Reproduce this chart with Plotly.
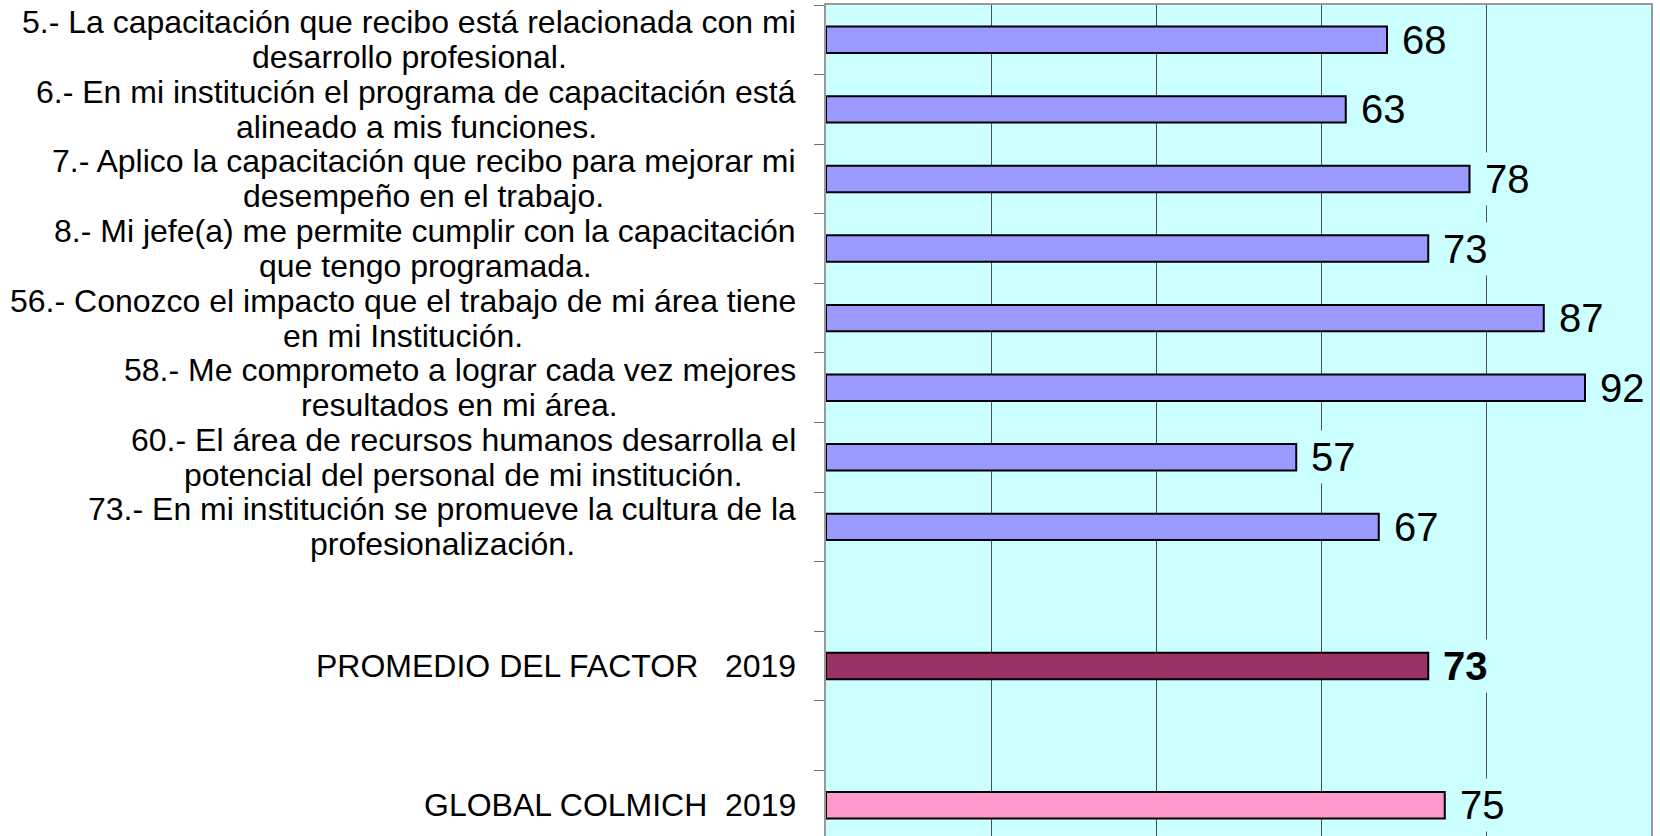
import plotly.graph_objects as go

line1 = [
    "5.- La capacitación que recibo está relacionada con mi",
    "6.- En mi institución el programa de capacitación está",
    "7.- Aplico la capacitación que recibo para mejorar mi",
    "8.- Mi jefe(a) me permite cumplir con la capacitación",
    "56.- Conozco el impacto que el trabajo de mi área tiene",
    "58.- Me comprometo a lograr cada vez mejores",
    "60.- El área de recursos humanos desarrolla el",
    "73.- En mi institución se promueve la cultura de la",
    "",
    "PROMEDIO DEL FACTOR\u00a0\u00a0\u00a02019",
    "",
    "GLOBAL COLMICH\u00a0\u00a02019",
]
line2 = [
    "desarrollo profesional.",
    "alineado a mis funciones.",
    "desempeño en el trabajo.",
    "que tengo programada.",
    "en mi Institución.",
    "resultados en mi área.",
    "potencial del personal de mi institución.",
    "profesionalización.",
    "",
    "",
    "",
    "",
]
values = [68, 63, 78, 73, 87, 92, 57, 67, None, 73, None, 75]
colors = ["#9999FF"] * 8 + ["#9999FF", "#993366", "#9999FF", "#FF99CC"]
bold_flags = [False] * 9 + [True, False, False]

cat_ids = [f"c{i}" for i in range(len(line1))]

# Arial / Liberation Sans advance widths (per 1000 em) used to centre the wrapped lines
_W = {" ": 278, "\u00a0": 278, ".": 278, ",": 278, "-": 333, "(": 333, ")": 333,
      "0": 556, "1": 556, "2": 556, "3": 556, "4": 556, "5": 556, "6": 556,
      "7": 556, "8": 556, "9": 556,
      "A": 667, "B": 667, "C": 722, "D": 722, "E": 667, "F": 611, "G": 778,
      "H": 722, "I": 278, "J": 500, "K": 667, "L": 556, "M": 833, "N": 722,
      "O": 778, "P": 667, "Q": 778, "R": 722, "S": 667, "T": 611, "U": 722,
      "V": 667, "W": 944, "X": 667, "Y": 667, "Z": 611,
      "a": 556, "b": 556, "c": 500, "d": 556, "e": 556, "f": 278, "g": 556,
      "h": 556, "i": 222, "j": 222, "k": 500, "l": 222, "m": 833, "n": 556,
      "o": 556, "p": 556, "q": 556, "r": 333, "s": 500, "t": 278, "u": 556,
      "v": 500, "w": 722, "x": 500, "y": 500, "z": 500,
      "á": 556, "é": 556, "í": 278, "ó": 556, "ú": 556, "ñ": 556}


def text_width(s, size):
    return sum(_W.get(ch, 556) for ch in s) * size / 1000.0


LSIZE = 32
LFONT = dict(family="Liberation Sans, Arial", size=LSIZE, color="black")
RIGHT_SHIFT = -28
HALF_GAP = 17.5

fig = go.Figure()
fig.add_trace(go.Bar(
    x=values, y=cat_ids, orientation="h",
    marker=dict(color=colors, line=dict(color="black", width=2)),
    width=0.38, hoverinfo="skip",
))

annotations = []
for cid, l1, l2, v, b in zip(cat_ids, line1, line2, values, bold_flags):
    if l1 and l2:
        wmax = max(text_width(l1, LSIZE), text_width(l2, LSIZE))
        cx = RIGHT_SHIFT - 2 - wmax / 2.0
        for txt, dy in ((l1, HALF_GAP), (l2, -HALF_GAP)):
            annotations.append(dict(
                xref="paper", x=0, yref="y", y=cid, xanchor="center",
                yanchor="middle", xshift=cx, yshift=dy, text=txt,
                showarrow=False, align="center", font=LFONT,
            ))
    elif l1:
        annotations.append(dict(
            xref="paper", x=0, yref="y", y=cid, xanchor="right", yanchor="middle",
            xshift=RIGHT_SHIFT, text=l1, showarrow=False, align="center",
            font=LFONT,
        ))
    if v is not None:
        txt = f"<b>{v}</b>" if b else str(v)
        annotations.append(dict(
            xref="x", x=v, yref="y", y=cid, xanchor="left", yanchor="middle",
            xshift=10, text=txt, showarrow=False, bgcolor="#CCFFFF", borderpad=4,
            font=dict(family="Liberation Sans, Arial", size=40, color="black"),
        ))

fig.update_layout(
    width=1660, height=836,
    margin=dict(l=826, r=9, t=5, b=0),
    paper_bgcolor="white", plot_bgcolor="#CCFFFF",
    showlegend=False,
    annotations=annotations,
    xaxis=dict(range=[0, 100], dtick=20, showticklabels=False, showgrid=True,
               gridcolor="#505050", gridwidth=1, zeroline=False, side="top",
               showline=True, linecolor="#999999", linewidth=2, mirror=False,
               fixedrange=True),
    yaxis=dict(categoryorder="array", categoryarray=cat_ids, type="category",
               range=[11.443, -0.5], showticklabels=False, showgrid=False,
               tickson="boundaries", ticks="outside", ticklen=10,
               tickcolor="#707070", tickwidth=1,
               showline=True, linecolor="#999999", linewidth=2, mirror=True,
               zeroline=False, fixedrange=True),
)

fig.write_html("out.html", config={"displayModeBar": False},
               post_script="document.body.style.margin='0';")
